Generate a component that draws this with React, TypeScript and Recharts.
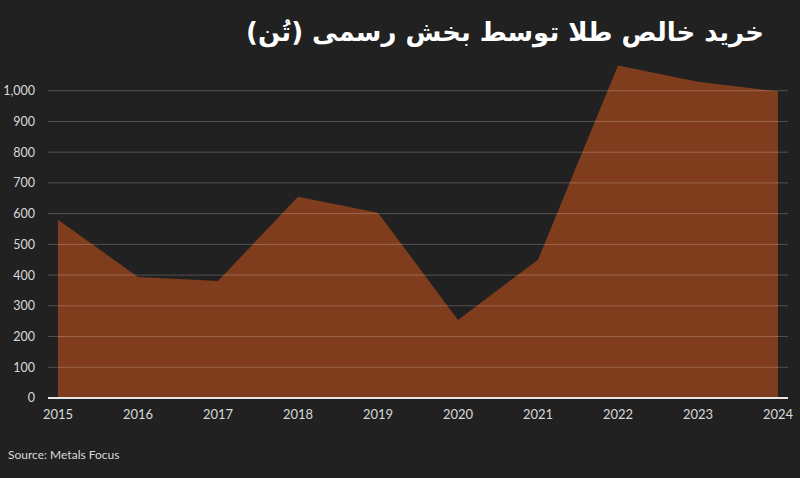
import React from 'react';
import { AreaChart, Area, XAxis, YAxis, ReferenceLine } from 'recharts';

const years = ['2015', '2016', '2017', '2018', '2019', '2020', '2021', '2022', '2023', '2024'];
const tonnes = [580, 394, 381, 655, 603, 254, 450, 1082, 1029, 998];
const yTicks = [0, 100, 200, 300, 400, 500, 600, 700, 800, 900, 1000];

const data = years.map((year, i) => ({ year, value: tonnes[i] }));

const BG = '#212121';
const FILL = '#7f3d1d';
const TEXT = '#d9d9d9';

export default function App() {
  return (
    <div style={{ position: 'fixed', left: 0, top: 0, width: 800, height: 478, background: BG, overflow: 'hidden' }}>
      <div
        style={{
          position: 'absolute', top: 17, right: 36, direction: 'rtl',
          fontFamily: '"DejaVu Sans", sans-serif', fontWeight: 'bold', fontSize: 26, color: '#ffffff',
        }}
      >
        خرید خالص طلا توسط بخش رسمی (تُن)
      </div>
      <AreaChart width={800} height={478} data={data} margin={{ top: 60, right: 12, left: 0, bottom: 50 }}>
        <XAxis
          dataKey="year"
          axisLine={false}
          tickLine={false}
          padding={{ left: 10, right: 10 }}
          tick={{ fill: TEXT, fontSize: 13, fontFamily: 'Lato, sans-serif' }}
          tickMargin={6}
          interval={0}
        />
        <YAxis
          width={48}
          domain={[0, 1100]}
          ticks={yTicks}
          axisLine={false}
          tickLine={false}
          tickMargin={7}
          tickFormatter={(v: number) => v.toLocaleString('en-US')}
          tick={{ fill: TEXT, fontSize: 12.5, fontFamily: 'Lato, sans-serif' }}
        />
        <Area
          type="linear"
          dataKey="value"
          stroke="none"
          fill={FILL}
          fillOpacity={1}
          isAnimationActive={false}
        />
        {yTicks.filter((t) => t > 0).map((t) => (
          <ReferenceLine key={t} y={t} stroke="rgba(255,255,255,0.22)" strokeWidth={1} />
        ))}
        <ReferenceLine y={0} stroke="#e6e6e6" strokeWidth={2} />
      </AreaChart>
      <div
        style={{
          position: 'absolute', left: 8, top: 447, color: TEXT,
          fontFamily: 'Lato, sans-serif', fontSize: 12,
        }}
      >
        Source: Metals Focus
      </div>
    </div>
  );
}
